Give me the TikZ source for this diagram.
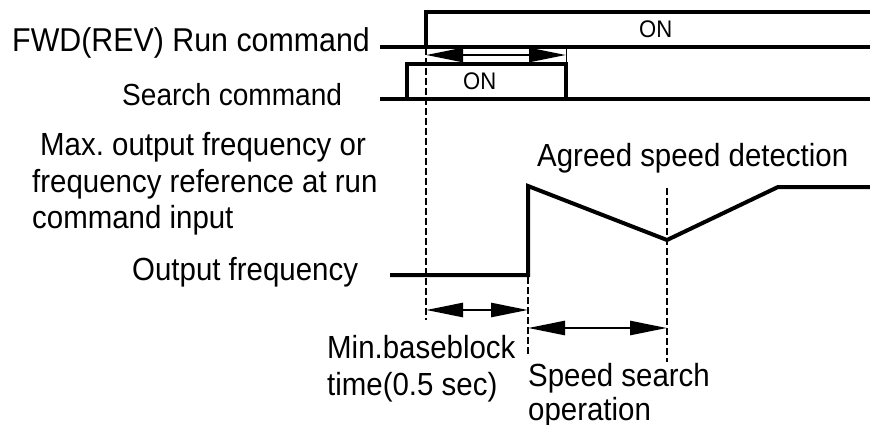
\documentclass[tikz,border=0pt]{standalone}
\usepackage{fontspec}
\setmainfont[FakeStretch=0.92]{Liberation Sans}
\usetikzlibrary{arrows.meta}
\frenchspacing

\begin{document}
\begin{tikzpicture}[x=1pt, y=-1pt,
  sig/.style={line width=4pt, line join=miter},
  guide/.style={line width=1.6pt, dash pattern=on 7pt off 3pt},
  span/.style={line width=2.5pt, {Triangle[length=37pt,width=14pt]}-{Triangle[length=37pt,width=14pt]}},
  lbl/.style={font=\fontsize{32}{37}\selectfont, anchor=base west, inner sep=0pt},
  ontxt/.style={font=\fontsize{24}{26}\selectfont, anchor=base west, inner sep=0pt}]
  \useasboundingbox (0,0) rectangle (870,425);

  % ---- time marks ----
  \coordinate (tS) at (407,0);   % search on
  \coordinate (tR) at (426,0);   % run on
  \coordinate (tB) at (528,0);   % baseblock end
  \coordinate (tE) at (566,0);   % search off
  \coordinate (tA) at (667,0);   % agreed speed

  % ---- FWD(REV) run command ----
  \node[lbl, font=\fontsize{33}{37}\selectfont] (run) at (12,52) {FWD(REV) Run command};
  \draw[sig] (380,47) -- (870,47);
  \draw[sig] (tR |- 0,47) -- (tR |- 0,12) -- (870,12);
  \node[ontxt] (runon) at (639,38) {ON};

  % ---- search command ----
  \node[lbl, font=\fontsize{30.5}{37}\selectfont] (search) at (122,106) {Search command};
  \draw[sig] (380,99) -- (870,99);
  \draw[sig] (tS |- 0,99) -- (tS |- 0,64) -- (tE |- 0,64) -- (tE |- 0,99);
  \draw[line width=1pt] (tE |- 0,46) -- (tE |- 0,62);
  \node[ontxt] (searchon) at (463,90) {ON};
  \coordinate (runL) at (tR |- 0,55);
  \coordinate (runR) at (tE |- 0,55);
  \draw[span] (runL) -- (runR);

  % ---- output frequency ----
  \node[lbl] (maxf1) at (40,156) {Max. output frequency or};
  \node[lbl] (maxf2) at (32,192) {frequency reference at run};
  \node[lbl] (maxf3) at (32,228) {command input};
  \node[lbl] (outf) at (132,280) {Output frequency};
  \node[lbl] (agreed) at (537,167) {Agreed speed detection};
  \draw[sig] (390,275) -- (tB |- 0,275) -- (tB |- 0,186) -- (tA |- 0,240) -- (778,187) -- (870,187);

  % ---- guide lines ----
  \draw[guide] (tR |- 0,48) -- (tR |- 0,320);
  \draw[guide] (tB |- 0,277) -- (tB |- 0,357);
  \draw[guide] (tA |- 0,188) -- (tA |- 0,362);

  % ---- spans ----
  \coordinate (bbL) at (tR |- 0,310);
  \coordinate (bbR) at (tB |- 0,310);
  \coordinate (ssL) at (tB |- 0,328);
  \coordinate (ssR) at (tA |- 0,328);
  \draw[span] (bbL) -- (bbR);
  \draw[span] (ssL) -- (ssR);
  \node[lbl] (minbb1) at (327,358) {Min.baseblock};
  \node[lbl] (minbb2) at (327,395) {time(0.5 sec)};
  \node[lbl] (spd1) at (528,386) {Speed search};
  \node[lbl] (spd2) at (528,420) {operation};
\end{tikzpicture}
\end{document}
